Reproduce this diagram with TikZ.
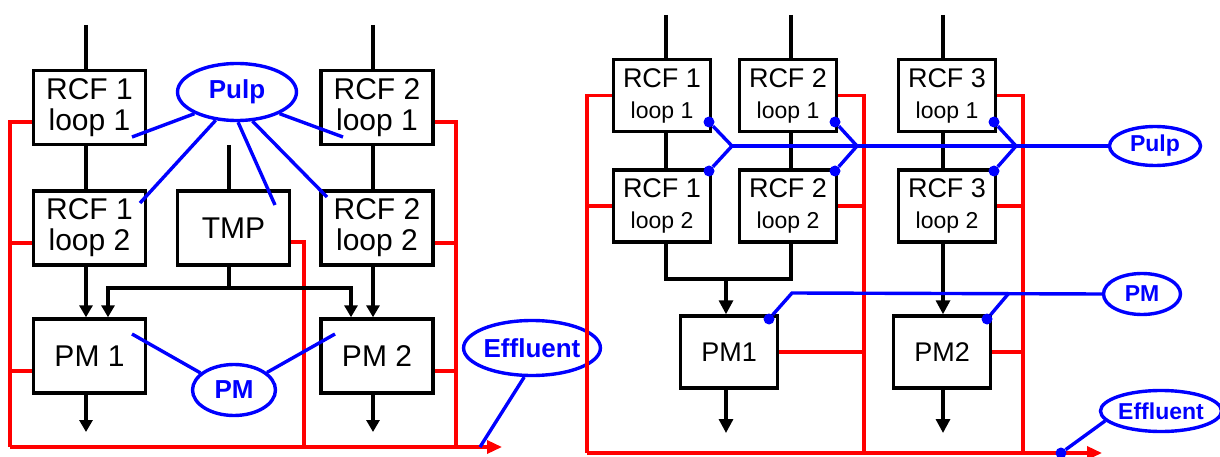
\documentclass[tikz,border=0pt]{standalone}
\usepackage{fontspec}
\setmainfont{Liberation Sans}
\usetikzlibrary{shapes.geometric,arrows.meta,calc}
\begin{document}
\begin{tikzpicture}[x=1pt,y=-1pt,
  lbox/.style={draw=black,line width=3.4pt,minimum width=112pt,minimum height=74pt,inner sep=0pt,align=center,font=\fontsize{30}{31}\selectfont},
  rbox/.style={draw=black,line width=3.4pt,minimum width=97pt,minimum height=72pt,inner sep=0pt,align=center,font=\fontsize{27}{31}\selectfont},
  lbl/.style={ellipse,draw=blue,text=blue,line width=3.4pt,inner sep=0pt,font=\bfseries\fontsize{26}{26}\selectfont},
  rbl/.style={ellipse,draw=blue,text=blue,line width=3.4pt,inner sep=0pt,font=\bfseries\fontsize{23}{23}\selectfont},
  bk/.style={black,line width=3.2pt},
  bka/.style={bk,-{Triangle[width=13pt,length=12pt]}},
  bkr/.style={bk,-{Triangle[width=14pt,length=14pt]}},
  rd/.style={red,line width=3.4pt},
  rda/.style={rd,-{Triangle[width=13pt,length=15pt]}},
  bl/.style={blue,line width=3.4pt},
  bdot/.style={circle,fill=blue,inner sep=0pt,minimum size=11pt}
]
\useasboundingbox (0,0) rectangle (1220,457);

% ---------------- left diagram ----------------
\node[lbox] (L11) at (89.5,107.5) {RCF 1\\loop 1};
\node[lbox] (L21) at (377,107.5) {RCF 2\\loop 1};
\node[lbox] (L12) at (89.5,228) {RCF 1\\loop 2};
\node[lbox] (TMP) at (233.5,228) {TMP};
\node[lbox] (L22) at (377,228) {RCF 2\\loop 2};
\node[lbox] (LP1) at (89.5,356) {PM 1};
\node[lbox] (LP2) at (377,356) {PM 2};

\node[lbl,minimum width=119pt,minimum height=57pt] (Pulp1) at (237,92) {Pulp};
\node[lbl,minimum width=83pt,minimum height=51pt] (PMl) at (234,390) {PM};
\node[lbl,minimum width=119pt,minimum height=55pt] (Effl) at (532,348) {Effluent};

\coordinate (inL1) at (86,25);
\coordinate (inL2) at (373,25);
\coordinate (inT) at (229,145);
\coordinate (jT) at (229,288);
\coordinate (aL) at (108,288);
\coordinate (aR) at (351,288);
\coordinate (outL1) at (86,432);
\coordinate (outL2) at (373,432);
\coordinate (LRb) at (10,447);
\coordinate (LMb) at (304,447);
\coordinate (LRRb) at (456,447);
\coordinate (LRend) at (502,447);
\coordinate (ef1) at (480,447);

% red effluent lines
\draw[rd] ([yshift=-14.5pt]L11.west) -| (LRb);
\draw[rd] ([yshift=-15pt]L12.west) -- ++(-22,0);
\draw[rd] ([yshift=-15pt]LP1.west) -- ++(-22,0);
\draw[rda] (LRb) -- (LRend);
\draw[rd] ([yshift=-14pt]TMP.east) -| (LMb);
\draw[rd] ([yshift=-14.5pt]L21.east) -| (LRRb);
\draw[rd] ([yshift=-15pt]L22.east) -- ++(22,0);
\draw[rd] ([yshift=-15pt]LP2.east) -- ++(22,0);

% black process lines
\draw[bk] (inL1) -- (inL1 |- L11.north);
\draw[bk] (inL2) -- (inL2 |- L21.north);
\draw[bk] (inL1 |- L11.south) -- (inL1 |- L12.north);
\draw[bk] (inL2 |- L21.south) -- (inL2 |- L22.north);
\draw[bk] (inT) -- (inT |- TMP.north);
\draw[bka] (inL1 |- L12.south) -- (inL1 |- LP1.north);
\draw[bka] (inL2 |- L22.south) -- (inL2 |- LP2.north);
\draw[bk] (inT |- TMP.south) -- (jT);
\draw[bka] (jT) -- (aL) -- (aL |- LP1.north);
\draw[bka] (jT) -- (aR) -- (aR |- LP2.north);
\draw[bka] (inL1 |- LP1.south) -- (outL1);
\draw[bka] (inL2 |- LP2.south) -- (outL2);

% blue sampling lines
\coordinate (pe1) at (132,137);
\coordinate (pe2) at (140,203);
\coordinate (pe3) at (275,205);
\coordinate (pe4) at (327,197);
\coordinate (pe5) at (343,137);
\draw[bl] (Pulp1.207) -- (pe1);
\draw[bl] (Pulp1.233) -- (pe2);
\draw[bl] (Pulp1.272) -- (pe3);
\draw[bl] (Pulp1.298) -- (pe4);
\draw[bl] (Pulp1.333) -- (pe5);
\coordinate (me1) at (132,334);
\coordinate (me2) at (335,334);
\draw[bl] (PMl.153) -- (me1);
\draw[bl] (PMl.28) -- (me2);
\draw[bl] (Effl.255) -- (ef1);

% ---------------- right diagram ----------------
\node[rbox] (R11) at (662,95.5) {RCF 1\\{\fontsize{23}{31}\selectfont loop 1}};
\node[rbox] (R21) at (788,95.5) {RCF 2\\{\fontsize{23}{31}\selectfont loop 1}};
\node[rbox] (R31) at (947,95.5) {RCF 3\\{\fontsize{23}{31}\selectfont loop 1}};
\node[rbox] (R12) at (662,206) {RCF 1\\{\fontsize{23}{31}\selectfont loop 2}};
\node[rbox] (R22) at (788,206) {RCF 2\\{\fontsize{23}{31}\selectfont loop 2}};
\node[rbox] (R32) at (947,206) {RCF 3\\{\fontsize{23}{31}\selectfont loop 2}};
\node[rbox] (RP1) at (729,352) {PM1};
\node[rbox] (RP2) at (942,352) {PM2};

\node[rbl,minimum width=91pt,minimum height=39pt] (Pulp2) at (1155,146) {Pulp};
\node[rbl,minimum width=77pt,minimum height=41pt] (PMr) at (1142,294) {PM};
\node[rbl,minimum width=113pt,minimum height=41pt] (Effr) at (1161,411) {Effluent};

\coordinate (inR1) at (666,15);
\coordinate (inR2) at (791,15);
\coordinate (inR3) at (943,15);
\coordinate (jR) at (726,279);
\coordinate (outR1) at (726,433);
\coordinate (outR2) at (943,433);
\coordinate (RRb) at (587,453);
\coordinate (RMb) at (864,453);
\coordinate (RRRb) at (1023,453);
\coordinate (RRend) at (1102,453);

% red effluent lines
\draw[rd] (R11.west) -| (RRb);
\draw[rd] (R12.west) -- (R12.west -| RRb);
\draw[rda] (RRb) -- (RRend);
\draw[rd] (R21.east) -| (RMb);
\draw[rd] (R22.east) -- (R22.east -| RMb);
\draw[rd] (RP1.east) -- (RP1.east -| RMb);
\draw[rd] (R31.east) -| (RRRb);
\draw[rd] (R32.east) -- (R32.east -| RRRb);
\draw[rd] (RP2.east) -- (RP2.east -| RRRb);

% black process lines
\draw[bk] (inR1) -- (inR1 |- R11.north);
\draw[bk] (inR2) -- (inR2 |- R21.north);
\draw[bk] (inR3) -- (inR3 |- R31.north);
\draw[bk] (inR1 |- R11.south) -- (inR1 |- R12.north);
\draw[bk] (inR2 |- R21.south) -- (inR2 |- R22.north);
\draw[bk] (inR3 |- R31.south) -- (inR3 |- R32.north);
\draw[bk] (inR1 |- R12.south) -- (inR1 |- jR) -- (inR2 |- jR) -- (inR2 |- R22.south);
\draw[bkr] (jR) -- (jR |- RP1.north);
\draw[bkr] (inR3 |- R32.south) -- (inR3 |- RP2.north);
\draw[bkr] (jR |- RP1.south) -- (outR1);
\draw[bkr] (inR3 |- RP2.south) -- (outR2);

% blue sampling lines
\coordinate (bp1) at (732,146);
\coordinate (bp2) at (857,146);
\coordinate (bp3) at (1016,146);
\node[bdot] (d11) at (709,122) {};
\node[bdot] (d12) at (709,171) {};
\node[bdot] (d21) at (835,122) {};
\node[bdot] (d22) at (835,171) {};
\node[bdot] (d31) at (994,122) {};
\node[bdot] (d32) at (994,171) {};
\draw[bl] (bp1) -- (Pulp2.west);
\draw[bl] (d11) -- (bp1) -- (d12);
\draw[bl] (d21) -- (bp2) -- (d22);
\draw[bl] (d31) -- (bp3) -- (d32);

\coordinate (pb1) at (792,293);
\coordinate (pb2) at (1009,293);
\node[bdot] (dp1) at (769,319) {};
\node[bdot] (dp2) at (987,319) {};
\draw[bl] (dp1) -- (pb1) -- (PMr.west);
\draw[bl] (dp2) -- (pb2);

\node[bdot] (de) at (1061,453) {};
\draw[bl] (Effr.190) -- (de);
\end{tikzpicture}
\end{document}
